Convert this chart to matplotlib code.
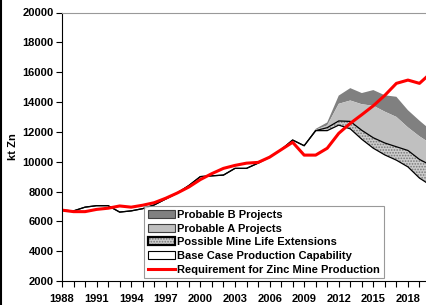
import numpy as np
import matplotlib
matplotlib.use('Agg')
import matplotlib.pyplot as plt
from matplotlib.patches import Patch
from matplotlib.lines import Line2D
from matplotlib.legend_handler import HandlerTuple
from matplotlib.ticker import MultipleLocator, FixedLocator

plt.rcParams['font.family'] = ['Liberation Sans', 'DejaVu Sans']
plt.rcParams['font.weight'] = 'bold'
plt.rcParams['hatch.linewidth'] = 0.8

# データ (kt Zn)
years = np.arange(1988, 2021)
base_case = [6750, 6700, 6950, 7050, 7050, 6620, 6700, 6850, 7100, 7500,
             7900, 8400, 9000, 9050, 9100, 9550, 9550, 9900, 10300, 10800,
             11450, 11070, 12080, 12080, 12450, 12200, 11500, 10900, 10450, 10100,
             9650, 8900, 8400]
mine_life_ext = [0] * 22 + [0, 200, 280, 500, 600, 700, 800, 900, 1100, 1250, 1350]
probable_a = [0] * 22 + [60, 150, 1150, 1400, 1750, 2150, 2100, 2000, 1550, 1550, 1450]
probable_b = [0] * 22 + [60, 200, 550, 830, 750, 1050, 1100, 1350, 1150, 1050, 900]
requirement = [6750, 6650, 6650, 6800, 6880, 7030, 6950, 7080, 7250, 7550,
               7900, 8300, 8800, 9200, 9550, 9750, 9900, 9950, 10300, 10800,
               11300, 10440, 10440, 10900, 11900, 12570, 13150, 13750, 14450, 15250,
               15470, 15250, 15950]

labels = ['Probable B Projects', 'Probable A Projects', 'Possible Mine Life Extensions',
          'Base Case Production Capability', 'Requirement for Zinc Mine Production']

# 積み上げ
base = np.array(base_case, dtype=float)
ext_top = base + np.array(mine_life_ext)
a_top = ext_top + np.array(probable_a)
b_top = a_top + np.array(probable_b)

hatch_face = '#cccccc'
hatch_col = '#777777'

fig = plt.figure(figsize=(4.27, 3.05), dpi=100)
ax = fig.add_axes([62 / 427, 24 / 305, 369 / 427, 268.5 / 305])

ax.fill_between(years, a_top, b_top, facecolor='#808080', linewidth=0)
ax.fill_between(years, ext_top, a_top, facecolor='#c0c0c0', linewidth=0)
ax.fill_between(years, base, ext_top, facecolor=hatch_face, edgecolor=hatch_col,
                hatch='......', linewidth=0)
ax.plot(years, ext_top, color='black', lw=0.9)
ax.plot(years, base, color='black', lw=0.9)
ax.plot(years, requirement, color='#ff0000', lw=2.2)

ax.set_xlim(1988, 2020)
ax.set_ylim(2000, 20000)
ax.yaxis.set_major_locator(MultipleLocator(2000))
ax.xaxis.set_major_locator(FixedLocator(range(1988, 2021, 3)))
ax.xaxis.set_minor_locator(MultipleLocator(1))
ax.tick_params(axis='both', which='both', direction='out', length=4, width=0.8,
               labelsize=8, colors='black')
ax.tick_params(axis='y', pad=2)
ax.tick_params(axis='x', pad=5)
ax.set_ylabel('kt Zn', fontsize=8, fontweight='bold')
ax.yaxis.set_label_coords(-0.118, 0.5)

ax.spines['right'].set_visible(False)
ax.spines['top'].set_color('#999999')
ax.spines['left'].set_linewidth(0.8)
ax.spines['bottom'].set_linewidth(0.8)

# 凡例
handles = [
    Patch(facecolor='#808080', edgecolor='#404040', lw=0.8),
    Patch(facecolor='#c0c0c0', edgecolor='#404040', lw=0.8),
    (Patch(facecolor=hatch_face, edgecolor=hatch_col, hatch='......', lw=0),
     Patch(facecolor='none', edgecolor='black', lw=1.6)),
    Patch(facecolor='white', edgecolor='black', lw=0.8),
    Line2D([], [], color='#ff0000', lw=2.2),
]
leg = ax.legend(handles, labels, loc='upper left',
                bbox_to_anchor=(144 / 427, 1 - 206 / 305), bbox_transform=fig.transFigure,
                fontsize=8, frameon=True, fancybox=False, borderaxespad=0,
                handlelength=2.4, handleheight=0.7, handletextpad=0.2,
                labelspacing=0.33, borderpad=0.35,
                handler_map={tuple: HandlerTuple(ndivide=1, pad=0)})
leg.get_frame().set_edgecolor('#808080')
leg.get_frame().set_linewidth(0.8)

fig.add_artist(Line2D([0.002, 0.002], [0, 1], color='black', lw=1.5,
                      transform=fig.transFigure))

plt.savefig('out.png', dpi=100)
plt.close()
